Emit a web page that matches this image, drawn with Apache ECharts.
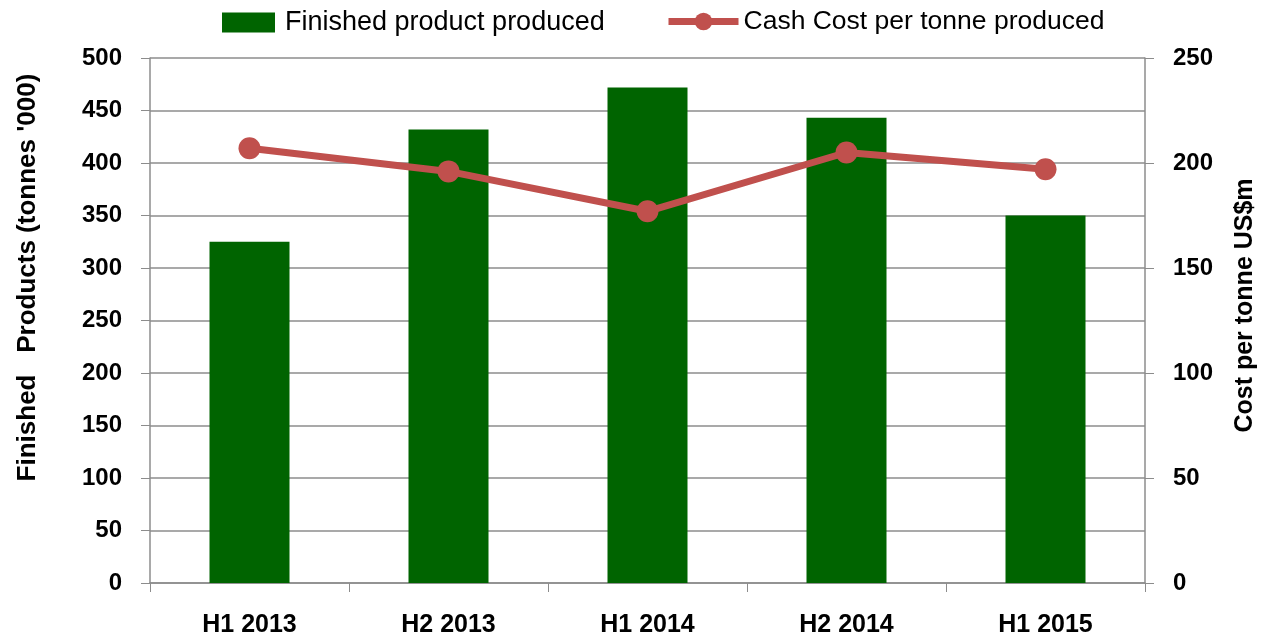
<!DOCTYPE html>
<html><head><meta charset="utf-8">
<script src="https://cdn.jsdelivr.net/npm/echarts@6/dist/echarts.min.js"></script>
<style>html,body{margin:0;padding:0;background:#fff}#c{width:1261px;height:639px}</style>
</head><body><div id="c"></div>
<script>
const categories = ['H1 2013','H2 2013','H1 2014','H2 2014','H1 2015'];
const finishedProduct = [325, 432, 472, 443, 350];
const cashCost = [207, 196, 177, 205, 197];
const leftTicks = {min:0, max:500, interval:50};
const rightTicks = {min:0, max:250, interval:50};

const chart = echarts.init(document.getElementById('c'), null, {renderer:'canvas'});
const axisGray = '#8c8c8c';
const font = "'Liberation Sans', Arial, sans-serif";
chart.setOption({
  animation:false,
  textStyle:{fontFamily:font},
  legend:[
    {top:9, left:222, padding:0, itemWidth:53, itemHeight:20, icon:'rect',
     textStyle:{fontSize:27, color:'#000', fontFamily:font, padding:[0,0,0,5]},
     data:[{name:'Finished product produced'}]},
    {top:8, left:665, padding:0, itemWidth:70, itemHeight:22,
     textStyle:{fontSize:26.5, color:'#000', fontFamily:font},
     data:[{name:'Cash Cost per tonne produced', lineStyle:{width:7}}]}
  ],
  grid:{left:150, right:116, top:58, bottom:56, containLabel:false, outerBoundsMode:'none'},
  xAxis:{
    type:'category', data:categories, boundaryGap:true,
    axisLine:{lineStyle:{color:axisGray, width:1.5}},
    axisTick:{show:true, length:9, lineStyle:{color:axisGray}},
    axisLabel:{color:'#000', fontWeight:'bold', fontSize:25, margin:30, fontFamily:font}
  },
  yAxis:[
    {type:'value', min:leftTicks.min, max:leftTicks.max, interval:leftTicks.interval,
     name:"Finished   Products (tonnes '000)", nameLocation:'middle', nameGap:109, nameRotate:90,
     nameTextStyle:{color:'#000', fontWeight:'bold', fontSize:26, fontFamily:font, padding:[0,0,0,86]},
     axisLine:{show:true, lineStyle:{color:axisGray, width:1.5}},
     axisTick:{show:true, length:9, lineStyle:{color:axisGray}},
     splitLine:{show:true, lineStyle:{color:axisGray, width:1.5}},
     axisLabel:{color:'#000', fontWeight:'bold', fontSize:24, margin:28, fontFamily:font}},
    {type:'value', min:rightTicks.min, max:rightTicks.max, interval:rightTicks.interval,
     name:'Cost per tonne US$m', nameLocation:'middle', nameGap:88, nameRotate:90,
     nameTextStyle:{color:'#000', fontWeight:'bold', fontSize:25, fontFamily:font, padding:[0,0,0,30]},
     axisLine:{show:true, lineStyle:{color:axisGray, width:1.5}},
     axisTick:{show:true, length:9, lineStyle:{color:axisGray}},
     splitLine:{show:false},
     axisLabel:{color:'#000', fontWeight:'bold', fontSize:24, margin:28, fontFamily:font}}
  ],
  series:[
    {name:'Finished product produced', type:'bar', data:finishedProduct, barWidth:80,
     itemStyle:{color:'#006400'}},
    {name:'Cash Cost per tonne produced', type:'line', yAxisIndex:1, data:cashCost,
     symbol:'circle', symbolSize:22, lineStyle:{color:'#c0504d', width:7},
     itemStyle:{color:'#c0504d'}}
  ]
});
</script></body></html>
